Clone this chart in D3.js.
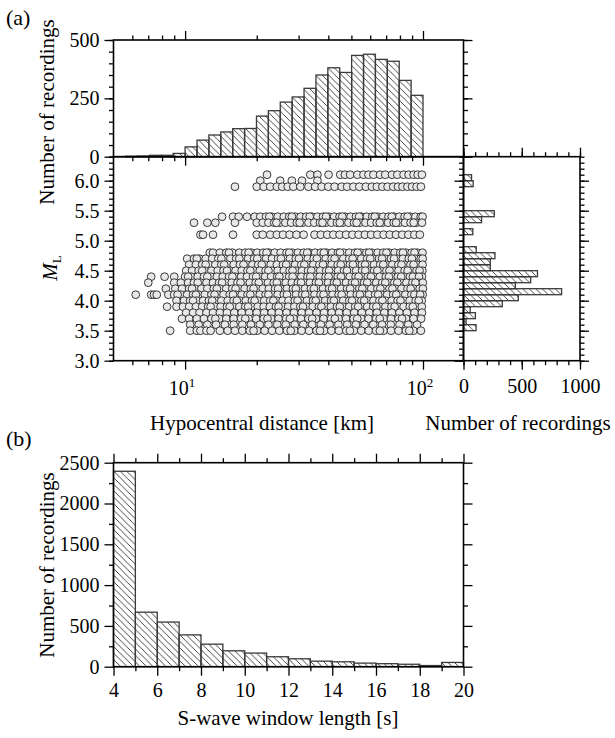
<!DOCTYPE html>
<html>
<head>
<meta charset="utf-8">
<script src="https://cdn.jsdelivr.net/npm/d3@7"></script>
<style>
  body { margin: 0; background: #fff; }
  svg { display: block; }
</style>
</head>
<body>
<svg id="chart" width="615" height="738"></svg>
<script>
// ---- data ----

// (a) top: histogram of hypocentral distance, bins in log10(km)
var distBinEdges = [0.75, 0.80, 0.85, 0.90, 0.95, 1.00, 1.05, 1.10, 1.15, 1.20, 1.25, 1.30, 1.35,
                    1.40, 1.45, 1.50, 1.55, 1.60, 1.65, 1.70, 1.75, 1.80, 1.85, 1.90, 1.95, 2.00];
var distCounts = [2, 3, 6, 6, 14, 42, 71, 93, 106, 120, 121, 174, 197,
                  234, 256, 293, 350, 381, 361, 434, 439, 417, 409, 327, 263];

// (a) right: histogram of ML (lower bin edge, bin width 0.1)
var mlBinLo = [6.0, 5.9, 5.4, 5.3, 5.1, 4.8, 4.7, 4.6, 4.5, 4.4, 4.3, 4.2, 4.1, 4.0, 3.9, 3.8, 3.7, 3.6, 3.5];
var mlCounts = [69, 83, 264, 155, 80, 109, 270, 230, 230, 635, 577, 445, 842, 470, 333, 57, 102, 22, 108];
var mlBinWidth = 0.1;

// (a) scatter: magnitude rows and hypocentral distances (km) of visible recordings
var scatterML = [6.1, 6.0, 5.9, 5.4, 5.3, 5.1, 4.8, 4.7, 4.6, 4.5, 4.4, 4.3, 4.2, 4.1, 4.0, 3.9, 3.8, 3.7, 3.6, 3.5];
var scatterDist = [
  [22.1, 33.6, 36, 40.1, 44.9, 47, 49.4, 53, 56.2, 59, 61.9, 66, 69.4, 74.1, 78, 82.9, 87, 91.3, 95, 99],
  [20.7, 25.1, 28.1, 31, 36],
  [16.2, 20, 21.4, 22.8, 24.3, 25.6, 27, 28.5, 30.5, 33, 35.2, 37.5, 40, 42.5, 45.5, 48, 51, 54, 57.5, 61, 64, 67.5, 71, 75, 78.5, 82, 86, 90, 94, 98],
  [14.3, 15.9, 16.8, 18.2, 19.6, 20.7, 21.9, 23.1, 24.5, 26, 27.4, 29, 30.6, 32.3, 34.1, 36, 38, 40.2, 42.3, 44.6, 47, 49.6, 52.3, 55.1, 58, 61.2, 64.5, 68, 71.6, 75.5, 79.5, 83.7, 88.2, 92.9, 97.8,
   22.6, 28.1, 33.4, 39.1, 45.8, 53.9, 62.7, 73.9, 86.1, 99.6],
  [10.9, 12.4, 13.4, 16.2, 20, 21.2, 22.4, 23.7, 25, 26.4, 27.9, 29.5, 31.2, 33, 34.9, 36.9, 39, 41.2, 43.5, 46, 48.6, 51.3, 54.2, 57.3, 60.5, 63.9, 67.5, 71.3, 75.3, 79.5, 84, 88.7, 93.7, 99,
   24.2, 30.3, 37.8, 44.7, 52.6, 65.8, 77.1, 91.4],
  [11.6, 11.9, 13.1, 15.9, 20, 21.2, 22.8, 24.3, 25.8, 27.5, 29.4, 31.5, 35, 37.2, 39.6, 42, 44.6, 47.5, 50.5, 53.6, 57, 60.5, 64.3, 68.3, 72.5, 77, 81.8, 86.8, 92, 97],
  [12.7, 13.1, 14, 14.9, 15.8, 16.9, 17.9, 19, 20.1, 21.3, 22.5, 23.8, 25.2, 26.7, 28.2, 29.8, 31.5, 33.3, 35.2, 37.2, 39.3, 41.5, 43.9, 46.4, 49, 51.8, 54.7, 57.8, 61, 64.5, 68.1, 72, 76, 80.3, 84.8, 89.6, 94.6, 99.5,
   15.3, 18.5, 22, 27.4, 32.6, 38.3, 44.8, 53.1, 59.4, 70.2, 82.4, 92.1],
  [10.2, 10.9, 11.5, 12.2, 13, 13.8, 14.6, 15.5, 16.4, 17.4, 18.4, 19.5, 20.7, 21.9, 23.2, 24.6, 26, 27.6, 29.2, 31, 32.8, 34.7, 36.8, 39, 41.3, 43.7, 46.3, 49, 52, 55, 58.3, 61.7, 65.4, 69.3, 73.4, 77.7, 82.3, 87.2, 92.4, 97.8,
   11.2, 14.2, 16.9, 20.1, 25.3, 30.1, 35.8, 42.5, 50.6, 60, 67.3, 75.6, 89.8, 99.7],
  [10.4, 11.1, 11.8, 12.6, 13.4, 14.2, 15.1, 16, 17, 18.1, 19.2, 20.3, 21.6, 22.9, 24.3, 25.8, 27.4, 29, 30.8, 32.7, 34.6, 36.7, 39, 41.3, 43.8, 46.5, 49.3, 52.3, 55.4, 58.8, 62.3, 66.1, 70.1, 74.3, 78.8, 83.6, 88.6, 94, 99.6,
   12.2, 14.6, 17.6, 21, 26.6, 31.7, 38, 45.1, 50.8, 57.1, 68.1, 81.2, 91.3],
  [10.1, 10.7, 11.4, 12.1, 12.9, 13.7, 14.5, 15.4, 16.3, 17.3, 18.3, 19.4, 20.6, 21.8, 23.1, 24.5, 26, 27.5, 29.2, 31, 32.9, 34.9, 37, 39.2, 41.5, 44, 46.6, 49.4, 52.4, 55.5, 58.9, 62.4, 66.2, 70.2, 74.4, 78.9, 83.7, 88.7, 94, 99.4,
   11.8, 15, 18.8, 22.4, 28.3, 33.9, 40.3, 47.9, 57.2, 64.3, 72.3, 86.2, 96.7],
  [7.2, 8.2, 9.0, 10, 10.6, 11.3, 12, 12.8, 13.6, 14.4, 15.3, 16.2, 17.2, 18.2, 19.3, 20.5, 21.7, 23, 24.4, 25.9, 27.4, 29.1, 30.8, 32.7, 34.7, 36.8, 39, 41.3, 43.8, 46.4, 49.2, 52.1, 55.3, 58.6, 62.1, 65.8, 69.8, 74, 78.4, 83.1, 88.1, 93.4, 99,
   10.3, 12.4, 15.8, 19.9, 24.9, 28.3, 33.6, 40.1, 45.2, 53.6, 60.4, 71.9, 80.9, 90.7, 96.2],
  [7.0, 9.0, 9.6, 10.3, 10.9, 11.6, 12.3, 13.1, 13.9, 14.8, 15.7, 16.6, 17.6, 18.7, 19.8, 21, 22.3, 23.6, 25, 26.5, 28.1, 29.8, 31.6, 33.5, 35.5, 37.6, 39.9, 42.3, 44.8, 47.5, 50.4, 53.4, 56.6, 60, 63.6, 67.4, 71.5, 75.8, 80.3, 85.2, 90.3, 95.7, 99.8,
   11.3, 14.3, 17.1, 20.4, 24.3, 30.7, 36.5, 43.4, 51.8, 58.3, 69.4, 78, 92.9],
  [8.3, 9.1, 9.7, 10.4, 11, 11.7, 12.4, 13.2, 14, 14.9, 15.8, 16.8, 17.8, 18.9, 20, 21.2, 22.5, 23.9, 25.3, 26.8, 28.4, 30.1, 31.9, 33.8, 35.9, 38, 40.3, 42.7, 45.3, 48, 50.9, 54, 57.2, 60.6, 64.3, 68.2, 72.3, 76.6, 81.2, 86.1, 91.3, 96.8, 99.9,
   10.7, 13.6, 16.3, 19.4, 24.6, 29.2, 34.8, 41.5, 49.4, 55.6, 66.2, 74.4, 88.7],
  [6.2, 7.2, 7.4, 7.6, 8.5, 9.0, 9.6, 10.2, 10.8, 11.4, 12.1, 12.9, 13.7, 14.5, 15.4, 16.3, 17.3, 18.3, 19.4, 20.6, 21.8, 23.1, 24.5, 26, 27.6, 29.3, 31.1, 33, 35, 37.1, 39.3, 41.7, 44.2, 46.9, 49.7, 52.7, 55.9, 59.3, 62.9, 66.7, 70.7, 75, 79.5, 84.3, 89.4, 94.8, 99.7,
   9.3, 11.1, 13.3, 15.9, 18.8, 22.4, 26.8, 32, 38.2, 45.5, 54.3, 64.8, 77.2, 92, 97.3],
  [9.2, 9.9, 10.5, 11.2, 11.9, 12.6, 13.4, 14.2, 15.1, 16, 17, 18, 19.1, 20.3, 21.5, 22.8, 24.2, 25.7, 27.2, 28.9, 30.6, 32.5, 34.5, 36.6, 38.8, 41.1, 43.6, 46.2, 49, 52, 55.1, 58.4, 61.9, 65.6, 69.6, 73.8, 78.2, 82.9, 87.9, 93.2, 98.8,
   10.8, 13, 16.5, 19.6, 23.5, 29.7, 35.4, 42.2, 50.3, 56.6, 67.5, 80.4, 95.9],
  [8.4, 9.2, 9.8, 10.4, 11.1, 11.8, 12.5, 13.3, 14.1, 15, 15.9, 16.9, 17.9, 19, 20.2, 21.4, 22.7, 24.1, 25.6, 27.1, 28.8, 30.5, 32.4, 34.4, 36.5, 38.7, 41, 43.5, 46.1, 48.9, 51.9, 55, 58.3, 61.8, 65.6, 69.5, 73.7, 78.2, 82.9, 87.9, 93.2, 98.9,
   12.8, 15.4, 18.4, 24.7, 31.3, 37.4, 44.7, 53.4, 63.7, 76, 90.6],
  [10.1, 10.8, 11.5, 12.3, 13.1, 14, 15, 16.1, 17.3, 18.6, 20, 21.5, 23.1, 24.8, 26.7, 28.7, 30.9, 33.2, 35.7, 38.4, 41.3, 44.4, 47.8, 51.4, 55.3, 59.5, 64, 68.8, 74, 79.6, 85.6, 92.1, 99],
  [9.7, 10.4, 11.2, 12, 12.9, 13.9, 14.9, 16, 17.2, 18.5, 19.9, 21.4, 23, 24.7, 26.6, 28.6, 30.7, 33, 35.5, 38.2, 41.1, 44.2, 47.5, 51.1, 54.9, 59, 63.5, 68.3, 73.4, 78.9, 84.9, 91.3, 98.2,
   13.4, 17.9, 22.2, 27.6, 34.2, 42.6, 52.9, 65.8, 81.6],
  [10.5, 11.4, 12.4, 13.5, 14.7, 16, 17.4, 18.9, 20.6, 22.4, 24.4, 26.5, 28.9, 31.4, 34.2, 37.2, 40.5, 44.1, 48, 52.2, 56.8, 61.8, 67.3, 73.2, 79.7, 86.7, 94.4],
  [8.65, 10.5, 11.2, 11.6, 12.3, 12.8, 14, 15.1, 16.2, 17.4, 18.7, 20.1, 21.6, 23.2, 24.9, 26.8, 28.8, 30.9, 33.2, 35.7, 38.4, 41.2, 44.3, 47.6, 51.2, 55, 59.1, 63.5, 68.3, 73.4, 78.9, 84.8, 91.1, 98,
   19.4, 27.8, 36.9, 49.3, 65.9, 87.6]
];

// (b): histogram of S-wave window length (1 s bins)
var swBinLo = [4, 5, 6, 7, 8, 9, 10, 11, 12, 13, 14, 15, 16, 17, 18, 19];
var swCounts = [2395, 668, 547, 390, 276, 195, 167, 122, 97, 68, 60, 44, 37, 30, 14, 52];

// tick labels
var topCountTicks = [0, 250, 500];
var mlTicks = [3.0, 3.5, 4.0, 4.5, 5.0, 5.5, 6.0];
var distMajorTicks = [10, 100];
var distMinorTicks = [6, 7, 8, 9, 20, 30, 40, 50, 60, 70, 80, 90];
var rightCountTicks = [0, 500, 1000];
var swTicks = [4, 6, 8, 10, 12, 14, 16, 18, 20];
var swCountTicks = [0, 500, 1000, 1500, 2000, 2500];

// ---- drawing ----
var FONT = "Liberation Serif, DejaVu Serif, Times New Roman, serif";
var svg = d3.select("#chart");

var defs = svg.append("defs");
defs.append("pattern")
    .attr("id", "hatch")
    .attr("patternUnits", "userSpaceOnUse")
    .attr("width", 6.5).attr("height", 6.5)
  .append("path")
    .attr("d", "M0,0 L6.5,6.5 M-2,4.5 L2,8.5 M4.5,-2 L8.5,2")
    .attr("stroke", "#333").attr("stroke-width", 0.9);

var left = 113.5, right = 463.5, rightHistR = 580;
var topY0 = 40, midY = 156.7, scatY1 = 360.7;
var bY0 = 462.7, bY1 = 666.7;

var xDist = d3.scaleLog().domain([5, 148]).range([left, right]);
var yTop = d3.scaleLinear().domain([0, 500]).range([midY, topY0]);
var yML = d3.scaleLinear().domain([3.0, 6.4]).range([scatY1, midY]);
var xCount = d3.scaleLinear().domain([0, 1000]).range([right, rightHistR]);
var xSW = d3.scaleLinear().domain([4, 20]).range([left, right]);
var ySW = d3.scaleLinear().domain([0, 2500]).range([bY1, bY0]);

var MAJ = 9, MIN = 4.5;

function axisPair(tx, ty, axisFn, scale, major, minor, fmt, pad) {
  var g = svg.append("g").attr("transform", "translate(" + tx + "," + ty + ")");
  g.append("g").call(axisFn(scale).tickValues(minor).tickSize(MIN).tickFormat(""));
  g.append("g").call(axisFn(scale).tickValues(major).tickSize(MAJ)
      .tickPadding(pad || 5).tickFormat(fmt || ""));
  g.selectAll(".domain").remove();
  g.selectAll("g").attr("font-family", null).attr("font-size", null);
  g.selectAll("line").attr("stroke", "#000").attr("stroke-width", 1.3);
  g.selectAll("text").style("font-family", FONT).style("font-size", "20px").attr("fill", "#000");
  return g;
}

function frame(x0, y0, x1, y1) {
  svg.append("rect")
    .attr("x", x0).attr("y", y0)
    .attr("width", x1 - x0).attr("height", y1 - y0)
    .attr("fill", "none").attr("stroke", "#000").attr("stroke-width", 1.6);
}

var barStyle = function(sel) {
  sel.attr("fill", "url(#hatch)").attr("stroke", "#3a3a3a").attr("stroke-width", 1.3);
};

// top histogram bars
var topBins = distCounts.map(function(c, i) {
  return {lo: Math.pow(10, distBinEdges[i]), hi: Math.pow(10, distBinEdges[i + 1]), n: c};
});
svg.append("g").selectAll("rect")
  .data(topBins).enter().append("rect")
    .attr("x", function(d) { return xDist(d.lo); })
    .attr("width", function(d) { return xDist(d.hi) - xDist(d.lo); })
    .attr("y", function(d) { return yTop(d.n); })
    .attr("height", function(d) { return yTop(0) - yTop(d.n); })
    .call(barStyle);

// right histogram bars
var mlBins = mlCounts.map(function(c, i) { return {lo: mlBinLo[i], n: c}; });
svg.append("g").selectAll("rect")
  .data(mlBins).enter().append("rect")
    .attr("x", xCount(0))
    .attr("width", function(d) { return xCount(d.n) - xCount(0); })
    .attr("y", function(d) { return yML(d.lo + mlBinWidth); })
    .attr("height", function(d) { return yML(d.lo) - yML(d.lo + mlBinWidth); })
    .call(barStyle);

// scatter points
var pts = [];
scatterML.forEach(function(m, i) {
  scatterDist[i].forEach(function(r) { pts.push({ml: m, r: r}); });
});
svg.append("g").selectAll("circle")
  .data(pts).enter().append("circle")
    .attr("cx", function(d) { return xDist(d.r); })
    .attr("cy", function(d) { return yML(d.ml); })
    .attr("r", 3.9)
    .attr("fill", "#e8e8e8")
    .attr("stroke", "#222")
    .attr("stroke-width", 0.9);

// bottom histogram bars
var swBins = swCounts.map(function(c, i) { return {lo: swBinLo[i], n: c}; });
svg.append("g").selectAll("rect")
  .data(swBins).enter().append("rect")
    .attr("x", function(d) { return xSW(d.lo); })
    .attr("width", function(d) { return xSW(d.lo + 1) - xSW(d.lo); })
    .attr("y", function(d) { return ySW(d.n); })
    .attr("height", function(d) { return ySW(0) - ySW(d.n); })
    .call(barStyle);

// ---- axes ----
var topMinor = d3.range(0, 501, 50);
var mlMinor = d3.range(30, 65, 1).map(function(v) { return v / 10; });
var countMinor = d3.range(0, 1001, 100);
var swMinor = d3.range(5, 20, 2);
var swCountMinor = d3.range(250, 2500, 500);

// top histogram
axisPair(left, 0, d3.axisLeft, yTop, topCountTicks, topMinor, d3.format("d"), 5);
axisPair(right, 0, d3.axisRight, yTop, topCountTicks, topMinor);
axisPair(0, topY0, d3.axisTop, xDist, distMajorTicks, distMinorTicks);
axisPair(0, midY, d3.axisBottom, xDist, distMajorTicks, distMinorTicks);

// scatter
axisPair(left, 0, d3.axisLeft, yML, mlTicks, mlMinor, d3.format(".1f"), 5);
axisPair(0, scatY1, d3.axisBottom, xDist, distMajorTicks, distMinorTicks);

// right histogram
axisPair(right, 0, d3.axisLeft, yML, mlTicks, mlMinor);
axisPair(rightHistR, 0, d3.axisRight, yML, mlTicks, mlMinor);
axisPair(0, midY, d3.axisTop, xCount, rightCountTicks, countMinor);
axisPair(0, scatY1, d3.axisBottom, xCount, rightCountTicks, countMinor, d3.format("d"), 9);

// bottom histogram
axisPair(left, 0, d3.axisLeft, ySW, swCountTicks, swCountMinor, d3.format("d"), 5);
axisPair(right, 0, d3.axisRight, ySW, swCountTicks, swCountMinor);
axisPair(0, bY0, d3.axisTop, xSW, swTicks, swMinor);
axisPair(0, bY1, d3.axisBottom, xSW, swTicks, swMinor, d3.format("d"), 7);

frame(left, topY0, right, midY);
frame(left, midY, right, scatY1);
frame(right, midY, rightHistR, scatY1);
frame(left, bY0, right, bY1);

// ---- text ----
function label(x, y, txt, rot, size) {
  var t = svg.append("text")
    .style("font-family", FONT).style("font-size", (size || 21) + "px")
    .attr("text-anchor", "middle").attr("fill", "#000")
    .attr("transform", "translate(" + x + "," + y + ")" + (rot ? " rotate(-90)" : ""));
  if (txt) t.text(txt);
  return t;
}

svg.append("text").attr("x", 6).attr("y", 25).style("font-family", FONT)
  .style("font-size", "22px").text("(a)");
svg.append("text").attr("x", 6).attr("y", 446).style("font-family", FONT)
  .style("font-size", "22px").text("(b)");

label(54, 112, "Number of recordings", true);
var ml = label(57, 268, null, true);
ml.append("tspan").style("font-style", "italic").text("M");
ml.append("tspan").style("font-size", "13px").attr("dy", 4).text("L");

// decade labels of the distance axis
distMajorTicks.forEach(function(v) {
  var t = label(xDist(v) - 3, 395, null, false, 20);
  t.append("tspan").text("10");
  t.append("tspan").style("font-size", "13px").attr("dy", -8).text(String(Math.round(Math.log10(v))));
});

label(262, 430, "Hypocentral distance [km]");
label(518, 430, "Number of recordings");
label(54, 565, "Number of recordings", true);
label(288, 725, "S-wave window length [s]");
</script>
</body>
</html>
